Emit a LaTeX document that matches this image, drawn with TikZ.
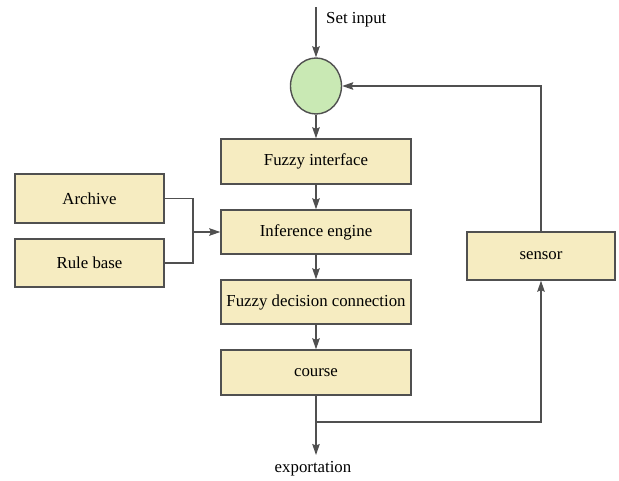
\documentclass[tikz,border=0pt]{standalone}
\usepackage{fontspec}
\setmainfont{Liberation Serif}
\usetikzlibrary{arrows.meta,shapes.geometric}
\definecolor{boxfill}{HTML}{F6ECC1}
\definecolor{sumfill}{HTML}{C9E9B4}
\definecolor{edge}{HTML}{505050}
\tikzset{
  block/.style={draw=edge, line width=1.4pt, fill=boxfill, minimum width=190pt, minimum height=45pt, inner sep=0pt},
  sidebox/.style={block, minimum width=149pt, minimum height=48pt},
  lbl/.style={inner sep=0pt},
  wire/.style={draw=edge, line width=1.4pt},
  arr/.style={wire, -{Stealth[length=11pt,width=7.5pt,inset=1.5pt]}},
}
\begin{document}
\begin{tikzpicture}[x=1pt,y=-1pt,font=\fontsize{16.8}{20}\selectfont]
\useasboundingbox (0,0) rectangle (619,480);
% summing point
\node[ellipse, draw=edge, line width=1.4pt, fill=sumfill, minimum width=51pt, minimum height=56pt, inner sep=0pt] (sum) at (316,86) {};
% main chain
\node[block] (fi) at (316,161.5) {Fuzzy interface\hspace{14pt}};
\node[block, minimum height=44pt] (ie) at (316,232) {Inference engine\hspace{12pt}};
\node[block, minimum height=44pt] (fdc) at (316,302) {Fuzzy decision connection};
\node[block] (course) at (316,372.5) {course};
% side inputs
\node[sidebox, minimum height=49pt] (arch) at (89.5,198.5) {Archive\hspace{10pt}};
\node[sidebox] (rule) at (89.5,263) {Rule base\hspace{12pt}};
% feedback
\node[sidebox, minimum width=148pt] (sensor) at (541,256) {sensor\hspace{22pt}};
% texts
\coordinate (in) at (316,7);
\node[lbl, anchor=west] (setin) at (326,19.5) {Set input};
\coordinate (out) at (316,455);
\node[lbl] (exp) at (313,468.5) {exportation};
\coordinate (join) at (193,232);
\coordinate (split) at (316,422);
% connectors
\draw[arr] (in) -- (sum.north);
\draw[arr] (sum.south) -- (fi.north);
\draw[arr] (fi) -- (ie);
\draw[arr] (ie) -- (fdc);
\draw[arr] (fdc) -- (course);
\draw[arr] (course.south) -- (out);
\draw[wire] (arch.east) -| (join);
\draw[wire] (rule.east) -| (join);
\draw[arr] (join) -- (ie.west);
\draw[arr] (split) -| (sensor.south);
\draw[arr] (sensor.north) |- (sum.east);
\end{tikzpicture}
\end{document}
